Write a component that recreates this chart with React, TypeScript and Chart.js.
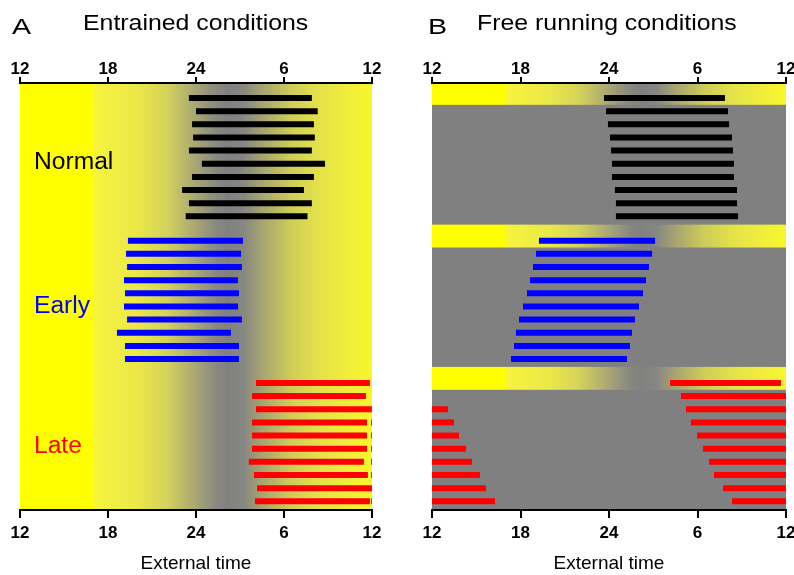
import React, { useEffect, useRef } from "react";
import { Chart, registerables } from "chart.js";

Chart.register(...registerables);

// ---- Axis ticks (hours: 12 = noon, 24 = midnight, 36 = next noon) ----
const hourTicks = [12, 18, 24, 30, 36];
const tickLabels = ["12", "18", "24", "6", "12"];

// ---- Groups ----
const groupNames = ["Normal", "Early", "Late"];
const groupColors = ["#000000", "#0000ff", "#ff0000"];

// ---- Panel A: entrained conditions (activity onset / offset, hours) ----
const entrainedNormalOn = [23.52, 24.0, 23.73, 23.8, 23.52, 24.4, 23.73, 23.05, 23.52, 23.3];
const entrainedNormalOff = [31.9, 32.3, 32.04, 32.1, 31.9, 32.8, 32.04, 31.36, 31.9, 31.6];
const entrainedEarlyOn = [19.36, 19.23, 19.3, 19.09, 19.16, 19.09, 19.3, 18.61, 19.16, 19.16];
const entrainedEarlyOff = [27.2, 27.07, 27.13, 26.86, 26.93, 26.86, 27.13, 26.38, 26.93, 26.93];
const entrainedLateOn = [28.09, 27.82, 28.09, 27.82, 27.82, 27.82, 27.6, 27.95, 28.16, 28.02];
const entrainedLateOff = [35.86, 35.59, 35.93, 35.66, 35.66, 35.66, 35.45, 35.72, 36.0, 35.86];
// small activity marks right at the 12 h edge in some late rows (onset hour, null = none)
const entrainedLateEdgeOn = [null, null, 35.94, 35.94, 35.94, 35.94, 35.94, 35.94, null, 35.94];

// ---- Panel B: free running conditions (offset > 36 wraps to next day) ----
const freeNormalOn = [23.66, 23.8, 23.93, 24.07, 24.14, 24.2, 24.2, 24.4, 24.47, 24.47];
const freeNormalOff = [31.86, 32.07, 32.14, 32.34, 32.41, 32.47, 32.47, 32.68, 32.68, 32.75];
const freeEarlyOn = [19.25, 19.05, 18.85, 18.64, 18.44, 18.17, 17.9, 17.69, 17.56, 17.36];
const freeEarlyOff = [27.12, 26.92, 26.71, 26.51, 26.31, 26.03, 25.76, 25.56, 25.42, 25.22];
const freeLateOn = [28.14, 28.88, 29.22, 29.56, 29.97, 30.37, 30.78, 31.12, 31.73, 32.34];
const freeLateOff = [35.66, 36.0, 37.08, 37.49, 37.83, 38.31, 38.71, 39.25, 39.66, 40.27];

// ---- Light profile (background gradient) ----
const lightHours = [12, 17, 17.02, 20, 22, 24, 25.3, 26.2, 27.2, 28.5, 30.5, 32.5, 35, 36];
const lightColors = [
  "#ffff00", "#ffff00", "#f6f43c", "#ebe848", "#d4d25a", "#a8a674", "#8a8a80",
  "#808080", "#868682", "#a6a470", "#cfcd58", "#e5e348", "#f3f136", "#f8f628",
];
const darkColor = "#808080";

// layout constants
const groupStart = [1, 11.85, 22.67];
const Y_MIN = -0.14;
const Y_MAX = 32.33;
const FONT = "'Liberation Sans', Arial, Helvetica, sans-serif";

const rowPos = (g: number, i: number) => groupStart[g] + i;

function makeGradient(ctx: CanvasRenderingContext2D, xs: any) {
  const x0 = xs.getPixelForValue(12);
  const x1 = xs.getPixelForValue(36);
  const grad = ctx.createLinearGradient(x0, 0, x1, 0);
  lightHours.forEach((h, k) => grad.addColorStop((h - 12) / 24, lightColors[k]));
  return grad;
}

const backgroundPlugin = {
  id: "lightBackground",
  beforeDraw(chart: any, _args: any, opts: any) {
    const { ctx, chartArea } = chart;
    const xs = chart.scales.x;
    const ys = chart.scales.y;
    const { left, right, top, bottom } = chartArea;
    ctx.save();
    if (opts.mode === "entrained") {
      ctx.fillStyle = makeGradient(ctx, xs);
      ctx.fillRect(left, top, right - left, bottom - top);
    } else {
      ctx.fillStyle = darkColor;
      ctx.fillRect(left, top, right - left, bottom - top);
      ctx.fillStyle = makeGradient(ctx, xs);
      groupStart.forEach((s) => {
        const y0 = Math.max(top, ys.getPixelForValue(s - 1.22));
        const y1 = ys.getPixelForValue(s + 0.52);
        ctx.fillRect(left, y0, right - left, y1 - y0);
      });
    }
    ctx.restore();
  },
};

function xAxis(position: "top" | "bottom") {
  const isBottom = position === "bottom";
  return {
    type: "linear",
    position,
    min: 12,
    max: 36,
    offset: false,
    afterBuildTicks: (s: any) => {
      s.ticks = hourTicks.map((v) => ({ value: v }));
    },
    afterFit: (s: any) => {
      s.height = isBottom ? 65 : 35;
    },
    ticks: {
      autoSkip: false,
      maxRotation: 0,
      color: "#000",
      padding: isBottom ? 5 : -3,
      font: { family: FONT, size: 17, weight: "bold" },
      callback: (v: number) => tickLabels[hourTicks.indexOf(v)],
    },
    grid: {
      drawOnChartArea: false,
      drawTicks: true,
      tickLength: isBottom ? 8 : 6,
      color: "#000",
      lineWidth: 2,
    },
    border: { display: true, color: "#000", width: 2 },
    title: {
      display: isBottom,
      text: "External time",
      color: "#000",
      font: { family: FONT, size: 19 },
      padding: { top: 0, bottom: 0 },
    },
  };
}

function buildDatasets(pairs: number[][][], edge?: (number | null)[][]) {
  const datasets: any[] = [];
  pairs.forEach(([on, off], g) => {
    const base = {
      backgroundColor: groupColors[g],
      borderWidth: 0,
      grouped: false,
      maxBarThickness: 6,
      borderSkipped: false,
    };
    datasets.push({
      ...base,
      label: groupNames[g],
      data: on.map((s, i) => ({ y: rowPos(g, i), x: [s, Math.min(off[i], 36)] })),
    });
    const wrap = on
      .map((_s, i) => (off[i] > 36 ? { y: rowPos(g, i), x: [12, off[i] - 24] } : null))
      .filter((d) => d !== null);
    if (wrap.length) {
      datasets.push({ ...base, label: groupNames[g] + " (wrap)", data: wrap });
    }
    if (edge && edge[g]) {
      const marks = edge[g]
        .map((s, i) => (s !== null ? { y: rowPos(g, i), x: [s, 36] } : null))
        .filter((d) => d !== null);
      if (marks.length) datasets.push({ ...base, label: groupNames[g] + " (edge)", data: marks });
    }
  });
  return datasets;
}

function Panel(props: { mode: "entrained" | "free"; left: number; width: number; padLeft: number; padRight: number }) {
  const ref = useRef<HTMLCanvasElement>(null);
  useEffect(() => {
    if (!ref.current) return;
    const entrained = props.mode === "entrained";
    const pairs = entrained
      ? [
          [entrainedNormalOn, entrainedNormalOff],
          [entrainedEarlyOn, entrainedEarlyOff],
          [entrainedLateOn, entrainedLateOff],
        ]
      : [
          [freeNormalOn, freeNormalOff],
          [freeEarlyOn, freeEarlyOff],
          [freeLateOn, freeLateOff],
        ];
    const edge = entrained ? [null as any, null as any, entrainedLateEdgeOn] : undefined;
    const chart = new Chart(ref.current, {
      type: "bar",
      data: { datasets: buildDatasets(pairs, edge) },
      options: {
        indexAxis: "y",
        animation: false,
        responsive: false,
        maintainAspectRatio: false,
        layout: { padding: { left: props.padLeft, right: props.padRight, top: 48, bottom: 0 } },
        plugins: {
          legend: { display: false },
          tooltip: { enabled: false },
          lightBackground: { mode: props.mode },
        } as any,
        scales: {
          x: xAxis("bottom"),
          x2: xAxis("top"),
          y: { type: "linear", display: false, offset: false, grace: 0, min: Y_MIN, max: Y_MAX, reverse: true },
        } as any,
      },
      plugins: [backgroundPlugin],
    } as any);
    return () => chart.destroy();
  }, []);
  return (
    <canvas
      ref={ref}
      width={props.width}
      height={575}
      style={{ position: "absolute", left: props.left, top: 0, width: props.width, height: 575, display: "block" }}
    />
  );
}

function Label(props: { text: string; left: number; top: number; size: number; color?: string; sx: number }) {
  return (
    <div
      style={{
        position: "absolute",
        left: props.left,
        top: props.top,
        fontFamily: FONT,
        fontSize: props.size,
        lineHeight: 1,
        color: props.color || "#000",
        whiteSpace: "nowrap",
        transform: `scaleX(${props.sx})`,
        transformOrigin: "left top",
      }}
    >
      {props.text}
    </div>
  );
}

export default function App() {
  return (
    <div
      style={{
        position: "absolute",
        left: 0,
        top: 0,
        width: 794,
        height: 575,
        overflow: "hidden",
        background: "#fff",
      }}
    >
      <Panel mode="entrained" left={0} width={400} padLeft={20} padRight={28} />
      <Panel mode="free" left={400} width={410} padLeft={32} padRight={24} />
      <Label text="A" left={12} top={16.4} size={22} sx={1.3} />
      <Label text="Entrained conditions" left={83} top={12.4} size={22} sx={1.13} />
      <Label text="B" left={428} top={16.4} size={22} sx={1.3} />
      <Label text="Free running conditions" left={477} top={12.4} size={22} sx={1.13} />
      <Label text={groupNames[0]} left={34.2} top={149.8} size={23} color={groupColors[0]} sx={1.07} />
      <Label text={groupNames[1]} left={34.2} top={293.8} size={23} color={groupColors[1]} sx={1.07} />
      <Label text={groupNames[2]} left={34.2} top={433.8} size={23} color={groupColors[2]} sx={1.07} />
    </div>
  );
}
